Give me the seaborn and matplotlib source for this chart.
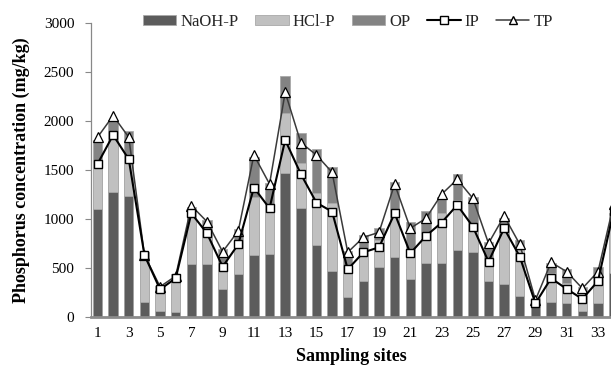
import numpy as np
import pandas as pd
import matplotlib
matplotlib.use("Agg")
import matplotlib.pyplot as plt
import seaborn as sns
from matplotlib.patches import Patch
from matplotlib.lines import Line2D

sites = list(range(1, 35))
naoh_p = [1099, 1272, 1238, 153, 61, 48, 537, 537, 286, 439,
          629, 643, 1466, 1109, 735, 473, 207, 371, 513, 609,
          385, 548, 554, 684, 666, 367, 333, 218, 156, 156,
          146, 61, 139, 446]
hcl_p = [435, 602, 398, 497, 239, 372, 493, 333, 244, 321,
         599, 507, 612, 459, 527, 687, 306, 330, 273, 483,
         299, 306, 504, 510, 289, 193, 606, 466, 14, 290,
         198, 181, 261, 560]
op = [272, 136, 262, 16, 16, 19, 96, 120, 161, 135,
      408, 214, 381, 313, 449, 367, 164, 136, 119, 289,
      289, 231, 170, 265, 273, 209, 68, 102, 20, 102,
      146, 67, 113, 60]
ip = [1561, 1857, 1609, 633, 282, 395, 1058, 854, 513, 742,
      1320, 1109, 1806, 1459, 1166, 1075, 486, 660, 711, 1058,
      650, 827, 963, 1143, 922, 565, 905, 616, 139, 395,
      286, 184, 367, 1080]
tp = [1834, 2054, 1834, 633, 309, 418, 1136, 973, 666, 878,
      1653, 1357, 2293, 1779, 1653, 1476, 660, 813, 864, 1357,
      905, 1007, 1252, 1405, 1211, 752, 1031, 742, 173, 558,
      463, 292, 463, 1150]
xtick_labels = [str(i) for i in range(1, 34, 2)]

df = pd.DataFrame({"site": sites, "NaOH": naoh_p, "HCl": hcl_p, "OP": op,
                   "IP": ip, "TP": tp})
df["c1"] = df["NaOH"]
df["c2"] = df["NaOH"] + df["HCl"]
df["c3"] = df["c2"] + df["OP"]

sns.set_theme(style="white")
plt.rcParams["font.family"] = ["Liberation Serif", "DejaVu Serif"]

c_naoh = "#5c5c5c"
c_hcl = "#c0c0c0"
c_op = "#838383"
edge = "#a9a9a9"

fig = plt.figure(figsize=(6.11, 3.67), dpi=100)
ax = fig.add_axes([91 / 611, 1 - 317 / 367, 1 - 91 / 611, (317 - 23) / 367])

for col, colr in [("c3", c_op), ("c2", c_hcl), ("c1", c_naoh)]:
    sns.barplot(data=df, x="site", y=col, native_scale=True, color=colr,
                width=0.6, saturation=1, edgecolor=edge, linewidth=0.6,
                ax=ax, errorbar=None, zorder=2)

sns.lineplot(data=df, x="site", y="TP", ax=ax, color="#3a3a3a", linewidth=1.1,
             marker="^", markersize=6.5, markerfacecolor="white",
             markeredgecolor="black", markeredgewidth=0.9, zorder=4)
sns.lineplot(data=df, x="site", y="IP", ax=ax, color="black", linewidth=1.5,
             marker="s", markersize=6, markerfacecolor="white",
             markeredgecolor="black", markeredgewidth=1.0, zorder=5)

ax.set_xlim(1 - 6.5 / 15.64, 1 + (611 - 97.5) / 15.64)
ax.set_ylim(0, 3000)
ax.set_yticks(range(0, 3001, 500))
ax.set_xticks(list(range(1, 34, 2)))
ax.set_xticklabels(xtick_labels)
ax.tick_params(axis="y", which="both", left=True, length=4, width=0.8,
               color="#888888", labelsize=11, pad=8, direction="out")
ax.tick_params(axis="x", length=0, labelsize=11, pad=7)
for lab in ax.get_xticklabels() + ax.get_yticklabels():
    lab.set_color("black")

for s in ["top", "right"]:
    ax.spines[s].set_visible(False)
ax.spines["left"].set_color("#888888")
ax.spines["left"].set_linewidth(0.9)
ax.spines["bottom"].set_color("#8c8c8c")
ax.spines["bottom"].set_linewidth(2.0)
ax.grid(False)

ax.set_xlabel("Sampling sites", fontsize=13, fontweight="bold", labelpad=6,
              color="black")
ax.set_ylabel("Phosphorus concentration (mg/kg)", fontsize=13,
              fontweight="bold", color="black")
ax.yaxis.set_label_coords((30 - 91) / 520, 0.5)

handles = [
    Patch(facecolor=c_naoh, edgecolor=edge, linewidth=0.6, label="NaOH-P"),
    Patch(facecolor=c_hcl, edgecolor=edge, linewidth=0.6, label="HCl-P"),
    Patch(facecolor=c_op, edgecolor=edge, linewidth=0.6, label="OP"),
    Line2D([], [], color="black", linewidth=1.5, marker="s", markersize=6,
           markerfacecolor="white", markeredgecolor="black", label="IP"),
    Line2D([], [], color="#3a3a3a", linewidth=1.1, marker="^", markersize=6,
           markerfacecolor="white", markeredgecolor="black", label="TP"),
]
fig.legend(handles=handles, loc="center", bbox_to_anchor=(348 / 611, 1 - 22 / 367),
           ncol=5, frameon=False, fontsize=12, handlelength=2.0,
           handleheight=0.6, handletextpad=0.25, columnspacing=1.0,
           borderpad=0, borderaxespad=0)

fig.savefig("out.png", dpi=100)
